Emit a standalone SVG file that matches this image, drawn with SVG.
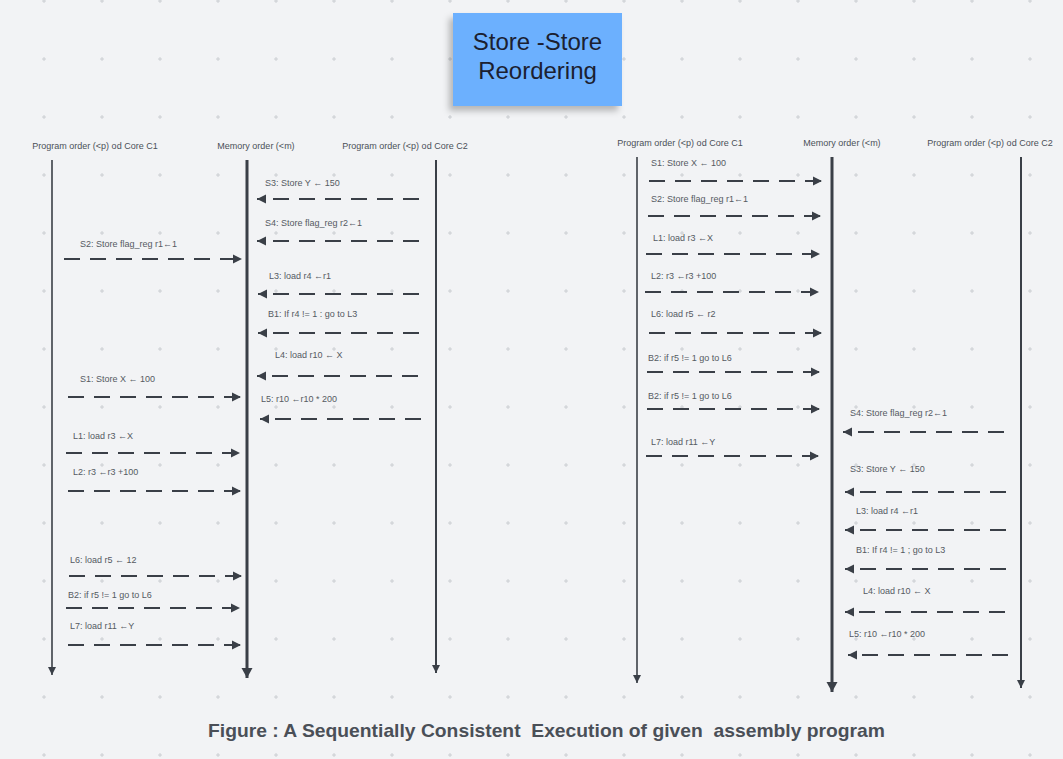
<svg xmlns="http://www.w3.org/2000/svg" width="1063" height="759" viewBox="0 0 1063 759">
<style>
.hdr{font-family:"Liberation Sans",Arial,sans-serif;font-size:9px;fill:#4b5058}
.lbl{font-family:"Liberation Sans",Arial,sans-serif;font-size:9px;fill:#555a62}
.msg{fill:none;stroke:#3a3f47;stroke-width:2;stroke-dasharray:16 10}
.r{marker-end:url(#ah)}
.life{fill:none;stroke:#3a3f47}
.title{font-family:"Liberation Sans",Arial,sans-serif;font-size:24px;fill:#1b2030;text-anchor:middle}
.cap{font-family:"Liberation Sans Narrow","Liberation Sans",Arial,sans-serif;font-size:19px;font-weight:bold;fill:#4a4f57}
</style>
<defs>
<pattern id="grid" x="44" y="1" width="58" height="58" patternUnits="userSpaceOnUse">
<path d="M0,-2V2M-2,0H2M58,-2V2M56,0H60M0,56V60M-2,58H2M58,56V60M56,58H60" stroke="#c4c7cc" stroke-width="0.8" fill="none"/>
</pattern>
<marker id="ah" markerUnits="userSpaceOnUse" markerWidth="10" markerHeight="10" refX="9" refY="5" orient="auto">
<path d="M0,0.5L9,5L0,9.5z" fill="#3a3f47"/>
</marker>
<marker id="lh1" markerUnits="userSpaceOnUse" markerWidth="10" markerHeight="10" refX="8" refY="4" orient="auto">
<path d="M0,0L8,4L0,8z" fill="#3a3f47"/>
</marker>
<marker id="lh3" markerUnits="userSpaceOnUse" markerWidth="12" markerHeight="12" refX="10" refY="6" orient="auto">
<path d="M0,0.5L10,6L0,11.5z" fill="#3a3f47"/>
</marker>
<filter id="sh" x="-20%" y="-20%" width="140%" height="150%">
<feDropShadow dx="-4" dy="5" stdDeviation="3" flood-color="#000" flood-opacity="0.25"/>
</filter>
</defs>
<rect width="1063" height="759" fill="#f2f3f5"/>
<rect width="1063" height="759" fill="url(#grid)"/>

<g id="title">
<rect x="453" y="13" width="169" height="93" fill="#6cb0fe" filter="url(#sh)"/>
<text class="title" x="537.5" y="50">Store -Store</text>
<text class="title" x="537.5" y="79">Reordering</text>
</g>

<g id="left-c1">
<text class="hdr" x="95" y="149" text-anchor="middle">Program order (&lt;p) od Core C1</text>
<line class="life" x1="52" y1="160" x2="52" y2="675" stroke-width="1.6" marker-end="url(#lh1)"/>
</g>
<g id="left-mem">
<text class="hdr" x="256" y="149" text-anchor="middle">Memory order (&lt;m)</text>
<line class="life" x1="247" y1="160" x2="247" y2="678" stroke-width="3" marker-end="url(#lh3)"/>
</g>
<g id="left-c2">
<text class="hdr" x="405" y="149" text-anchor="middle">Program order (&lt;p) od Core C2</text>
<line class="life" x1="436" y1="160" x2="436" y2="673" stroke-width="2" marker-end="url(#lh1)"/>
</g>

<g id="right-c1">
<text class="hdr" x="680" y="146" text-anchor="middle">Program order (&lt;p) od Core C1</text>
<line class="life" x1="637" y1="157" x2="637" y2="683" stroke-width="1.6" marker-end="url(#lh1)"/>
</g>
<g id="right-mem">
<text class="hdr" x="842" y="146" text-anchor="middle">Memory order (&lt;m)</text>
<line class="life" x1="832" y1="157" x2="832" y2="692" stroke-width="3" marker-end="url(#lh3)"/>
</g>
<g id="right-c2">
<text class="hdr" x="990" y="146" text-anchor="middle">Program order (&lt;p) od Core C2</text>
<line class="life" x1="1021" y1="157" x2="1021" y2="688" stroke-width="2" marker-end="url(#lh1)"/>
</g>

<g id="connectors">
<!-- left diagram -->
<text class="lbl" x="265" y="186">S3: Store Y ← 150</text>
<line class="msg r" x1="419" y1="199" x2="257" y2="199"/>
<text class="lbl" x="265" y="226">S4: Store flag_reg r2←1</text>
<line class="msg r" x1="419" y1="241" x2="257" y2="241"/>
<text class="lbl" x="80" y="247">S2: Store flag_reg r1←1</text>
<line class="msg r" x1="64" y1="259" x2="242" y2="259"/>
<text class="lbl" x="269" y="279">L3: load r4 ←r1</text>
<line class="msg r" x1="419" y1="294" x2="258" y2="294"/>
<text class="lbl" x="268" y="317">B1: If r4 != 1 : go to L3</text>
<line class="msg r" x1="419" y1="333" x2="258" y2="333"/>
<text class="lbl" x="275" y="358">L4: load r10 ← X</text>
<line class="msg r" x1="418" y1="376" x2="257" y2="376"/>
<text class="lbl" x="80" y="382">S1: Store X ← 100</text>
<line class="msg r" x1="68" y1="397" x2="241" y2="397"/>
<text class="lbl" x="261" y="402">L5:  r10 ←r10 * 200</text>
<line class="msg r" x1="421" y1="419" x2="260" y2="419"/>
<text class="lbl" x="73" y="439">L1: load r3 ←X</text>
<line class="msg r" x1="66" y1="453" x2="240" y2="453"/>
<text class="lbl" x="73" y="475">L2: r3 ←r3 +100</text>
<line class="msg r" x1="68" y1="491" x2="241" y2="491"/>
<text class="lbl" x="70" y="563">L6: load r5 ← 12</text>
<line class="msg r" x1="69" y1="576" x2="242" y2="576"/>
<text class="lbl" x="68" y="598">B2: if r5 != 1 go to L6</text>
<line class="msg r" x1="66" y1="608" x2="240" y2="608"/>
<text class="lbl" x="70" y="629">L7: load r11 ←Y</text>
<line class="msg r" x1="68" y1="645" x2="241" y2="645"/>

<!-- right diagram -->
<text class="lbl" x="651" y="166">S1: Store X ← 100</text>
<line class="msg r" x1="649" y1="181" x2="822" y2="181"/>
<text class="lbl" x="651" y="202">S2: Store flag_reg r1←1</text>
<line class="msg r" x1="648" y1="216" x2="821" y2="216"/>
<text class="lbl" x="653" y="241">L1: load r3 ←X</text>
<line class="msg r" x1="646" y1="254" x2="820" y2="254"/>
<text class="lbl" x="651" y="279">L2: r3 ←r3 +100</text>
<line class="msg r" x1="645" y1="292" x2="819" y2="292"/>
<text class="lbl" x="651" y="317">L6: load r5 ← r2</text>
<line class="msg r" x1="649" y1="333" x2="822" y2="333"/>
<text class="lbl" x="648" y="361">B2: if r5 != 1 go to L6</text>
<line class="msg r" x1="647" y1="372" x2="820" y2="372"/>
<text class="lbl" x="648" y="399">B2: if r5 != 1 go to L6</text>
<line class="msg r" x1="647" y1="409" x2="820" y2="409"/>
<text class="lbl" x="651" y="445">L7: load r11 ←Y</text>
<line class="msg r" x1="646" y1="456" x2="819" y2="456"/>
<text class="lbl" x="850" y="416">S4: Store flag_reg r2←1</text>
<line class="msg r" x1="1004" y1="432" x2="843" y2="432"/>
<text class="lbl" x="850" y="472">S3: Store Y ← 150</text>
<line class="msg r" x1="1006" y1="492" x2="845" y2="492"/>
<text class="lbl" x="856" y="514">L3: load r4 ←r1</text>
<line class="msg r" x1="1006" y1="530" x2="845" y2="530"/>
<text class="lbl" x="856" y="553">B1: If r4 != 1 ; go to L3</text>
<line class="msg r" x1="1006" y1="569" x2="845" y2="569"/>
<text class="lbl" x="863" y="594">L4: load r10 ← X</text>
<line class="msg r" x1="1005" y1="612" x2="845" y2="612"/>
<text class="lbl" x="849" y="637">L5:  r10 ←r10 * 200</text>
<line class="msg r" x1="1008" y1="655" x2="848" y2="655"/>
</g>

<g id="caption">
<text class="cap" x="208" y="737" xml:space="preserve" textLength="677" lengthAdjust="spacingAndGlyphs">Figure : A Sequentially Consistent  Execution of given  assembly program</text>
</g>
</svg>
